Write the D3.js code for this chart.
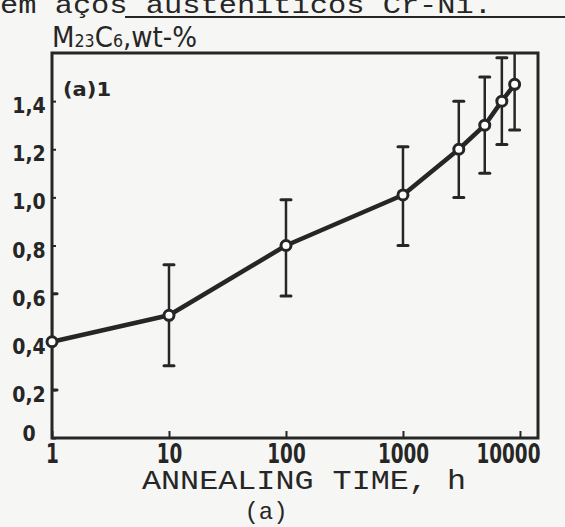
<!DOCTYPE html>
<html>
<head>
<meta charset="utf-8">
<script src="https://cdn.jsdelivr.net/npm/d3@7"></script>
<style>
  html, body { margin: 0; padding: 0; background: #f6f6f4; }
  svg { display: block; }
</style>
</head>
<body>
<div id="graph"></div>
<script>
// annealing time (h) and M23C6 content (wt-%) with scatter bands
const times    = [1, 10, 100, 1000, 3000, 5000, 7000, 9000];
const carbide  = [0.40, 0.51, 0.80, 1.01, 1.20, 1.30, 1.40, 1.47];
const errLow   = [0.20, 0.30, 0.59, 0.80, 1.00, 1.10, 1.22, 1.28];
const errHigh  = [0.60, 0.72, 0.99, 1.21, 1.40, 1.50, 1.58, 1.66];

const xTicks      = [1, 10, 100, 1000, 10000];
const xTickLabels = ['1', '10', '100', '1000', '10000'];
const yTicks      = [0, 0.2, 0.4, 0.6, 0.8, 1.0, 1.2, 1.4];
const yTickLabels = ['0', '0,2', '0,4', '0,6', '0,8', '1,0', '1,2', '1,4'];

var width = 565;
var height = 527;
var ink = '#262626';
var narrow = '"DejaVu Sans Condensed", "DejaVu Sans", sans-serif';
var mono = '"Liberation Mono", "DejaVu Sans Mono", monospace';

var x = d3.scaleLog()
          .domain([1, 14260])
          .range([52, 538]);

var y = d3.scaleLinear()
          .domain([0, 1.6])
          .range([438, 53]);

var svg = d3.select('#graph')
            .append('svg')
            .attr('width', width)
            .attr('height', height);

svg.append('rect')
   .attr('width', width)
   .attr('height', height)
   .attr('fill', '#f6f6f4');

// cut-off line of the page text above the figure
svg.append('text')
   .attr('x', 0)
   .attr('y', 13)
   .attr('font-family', mono)
   .attr('font-size', 25)
   .attr('fill', ink)
   .attr('textLength', 492)
   .attr('lengthAdjust', 'spacingAndGlyphs')
   .text('em aços austeníticos Cr-Ni.');

svg.append('line')
   .attr('x1', 125).attr('x2', 565)
   .attr('y1', 17).attr('y2', 17)
   .attr('stroke', ink)
   .attr('stroke-width', 2);

svg.append('defs').append('clipPath')
   .attr('id', 'plot')
   .append('rect')
   .attr('x', x.range()[0])
   .attr('y', y.range()[1])
   .attr('width', x.range()[1] - x.range()[0])
   .attr('height', y.range()[0] - y.range()[1]);

// x axis
var xAxis = svg.append('g')
   .attr('transform', 'translate(0,' + y(0) + ')')
   .call(d3.axisBottom(x)
           .tickValues(xTicks)
           .tickSizeInner(-7)
           .tickSizeOuter(0)
           .tickPadding(7)
           .tickFormat((d, i) => xTickLabels[i]));

xAxis.select('.domain').remove();
xAxis.selectAll('.tick line')
     .attr('stroke', ink)
     .attr('stroke-width', 2);
xAxis.selectAll('.tick text')
     .attr('font-family', narrow)
     .attr('font-size', 26)
     .attr('font-weight', 'bold')
     .attr('fill', ink)
     .attr('lengthAdjust', 'spacingAndGlyphs')
     .each(function() { this.setAttribute('textLength', this.textContent.length * 12.8); });

// last label sits left of its tick, inside the frame
xAxis.selectAll('.tick text')
     .filter((d, i) => i === xTicks.length - 1)
     .attr('text-anchor', 'end')
     .attr('dx', 20);

// y axis
var yAxis = svg.append('g')
   .attr('transform', 'translate(' + x(1) + ',0)')
   .call(d3.axisLeft(y)
           .tickValues(yTicks)
           .tickSizeInner(-4)
           .tickSizeOuter(0)
           .tickFormat((d, i) => yTickLabels[i]));

yAxis.select('.domain').remove();
yAxis.selectAll('.tick line')
     .attr('stroke', ink)
     .attr('stroke-width', 2);
yAxis.selectAll('.tick text')
     .attr('font-family', narrow)
     .attr('font-size', 21)
     .attr('font-weight', 'bold')
     .attr('fill', ink)
     .attr('text-anchor', 'middle')
     .attr('x', -23)
     .attr('dy', d => d === 0 ? '0.1em' : '0.55em');

// frame
svg.append('rect')
   .attr('x', x.range()[0])
   .attr('y', y.range()[1])
   .attr('width', x.range()[1] - x.range()[0])
   .attr('height', y.range()[0] - y.range()[1])
   .attr('fill', 'none')
   .attr('stroke', ink)
   .attr('stroke-width', 3);

var pts = times.map((t, i) => ({t: t, v: carbide[i], lo: errLow[i], hi: errHigh[i]}));

var bars = svg.append('g').attr('clip-path', 'url(#plot)');

bars.selectAll('line.bar')
    .data(pts)
    .enter()
    .append('line')
    .attr('class', 'bar')
    .attr('x1', d => x(d.t)).attr('x2', d => x(d.t))
    .attr('y1', d => y(d.lo)).attr('y2', d => y(d.hi))
    .attr('stroke', ink)
    .attr('stroke-width', 2.5);

bars.selectAll('line.capLo')
    .data(pts)
    .enter()
    .append('line')
    .attr('class', 'capLo')
    .attr('x1', d => x(d.t) - 5).attr('x2', d => x(d.t) + 5)
    .attr('y1', d => y(d.lo)).attr('y2', d => y(d.lo))
    .attr('stroke', ink)
    .attr('stroke-width', 3)
    .attr('stroke-linecap', 'round');

bars.selectAll('line.capHi')
    .data(pts.filter(d => d.hi < y.domain()[1]))
    .enter()
    .append('line')
    .attr('class', 'capHi')
    .attr('x1', d => x(d.t) - 5).attr('x2', d => x(d.t) + 5)
    .attr('y1', d => y(d.hi)).attr('y2', d => y(d.hi))
    .attr('stroke', ink)
    .attr('stroke-width', 3)
    .attr('stroke-linecap', 'round');

var line = d3.line()
             .x(d => x(d.t))
             .y(d => y(d.v));

svg.append('path')
   .datum(pts)
   .attr('d', line)
   .attr('fill', 'none')
   .attr('stroke', ink)
   .attr('stroke-width', 4.5)
   .attr('stroke-linejoin', 'round');

svg.selectAll('circle')
   .data(pts)
   .enter()
   .append('circle')
   .attr('cx', d => x(d.t))
   .attr('cy', d => y(d.v))
   .attr('r', 5)
   .attr('fill', '#ffffff')
   .attr('stroke', ink)
   .attr('stroke-width', 3);

// axis titles and panel labels
var yTitle = svg.append('text')
   .attr('x', 52)
   .attr('y', 47)
   .attr('font-family', narrow)
   .attr('font-size', 28)
   .attr('fill', ink)
   .attr('textLength', 145)
   .attr('lengthAdjust', 'spacingAndGlyphs');
yTitle.append('tspan').text('M');
yTitle.append('tspan').attr('font-size', 17).text('23');
yTitle.append('tspan').text('C');
yTitle.append('tspan').attr('font-size', 17).text('6');
yTitle.append('tspan').text(',wt-%');

svg.append('text')
   .attr('x', 63)
   .attr('y', 96)
   .attr('font-family', narrow)
   .attr('font-size', 20)
   .attr('font-weight', 'bold')
   .attr('fill', ink)
   .attr('textLength', 48)
   .attr('lengthAdjust', 'spacingAndGlyphs')
   .text('(a)1');

svg.append('text')
   .attr('x', 142)
   .attr('y', 489)
   .attr('font-family', mono)
   .attr('font-size', 27)
   .attr('fill', ink)
   .attr('textLength', 324)
   .attr('lengthAdjust', 'spacingAndGlyphs')
   .text('ANNEALING TIME, h');

svg.append('text')
   .attr('x', 266)
   .attr('y', 519)
   .attr('text-anchor', 'middle')
   .attr('font-family', mono)
   .attr('font-size', 24)
   .attr('fill', ink)
   .text('(a)');
</script>
</body>
</html>
